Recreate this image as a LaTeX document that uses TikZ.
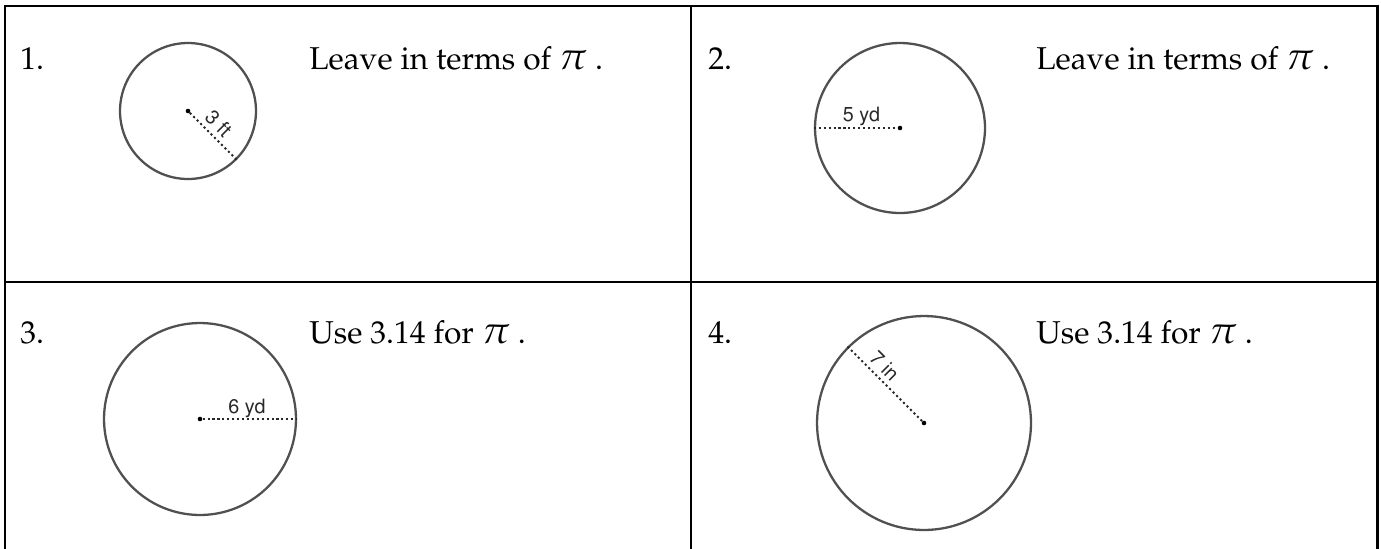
\documentclass[tikz,border=0pt]{standalone}
\usepackage[T1]{fontenc}
\usepackage{mathpazo}
\usepackage[scaled=0.9]{helvet}
\usetikzlibrary{positioning}
\definecolor{rimgrey}{RGB}{80,80,80}
\definecolor{dotgrey}{RGB}{40,40,40}
\newcommand{\qfont}{\fontsize{18}{22}\selectfont}
\newcommand{\bigpi}{{\fontsize{22}{26}\selectfont$\pi$}}
\tikzset{
  gridline/.style={draw=black,line width=1.6pt},
  disc/.style={circle,draw=rimgrey,line width=1.3pt,inner sep=0pt},
  radline/.style={draw=dotgrey,line width=1.1pt,dash pattern=on 1.2pt off 1.6pt},
  hub/.style={circle,fill=black,inner sep=0pt,minimum size=2.6pt},
  qnum/.style={anchor=base west,font=\qfont,inner sep=0pt},
  hint/.style={anchor=base west,font=\qfont,inner sep=0pt},
  dimlabel/.style={font=\sffamily\fontsize{12.5}{14}\selectfont,text=dotgrey,inner sep=2.5pt},
}

\begin{document}
\begin{tikzpicture}[x=0.02cm,y=-0.02cm]
  \useasboundingbox (0,0) rectangle (1381,548);
  % table frame
  \draw[gridline] (5,6) rectangle (1377.5,551);
  \draw[gridline] (691,6) -- (691,551);
  \draw[gridline] (5,282) -- (1377.5,282);
  % numbers and instructions
  \node[qnum] (n1) at (20,69) {1.};
  \node[hint] (h1) at (309,69) {Leave in terms of \bigpi\ .};
  \node[qnum] (n2) at (708,69) {2.};
  \node[hint] (h2) at (1036,69) {Leave in terms of \bigpi\ .};
  \node[qnum] (n3) at (20,343) {3.};
  \node[hint] (h3) at (309,343) {Use 3.14 for \bigpi\ .};
  \node[qnum] (n4) at (708,343) {4.};
  \node[hint] (h4) at (1036,343) {Use 3.14 for \bigpi\ .};
  % circles
  \node[disc,minimum size=2.72cm] (c1) at (188,111) {};
  \node[disc,minimum size=3.40cm] (c2) at (900,128) {};
  \node[disc,minimum size=3.84cm] (c3) at (200,419) {};
  \node[disc,minimum size=4.28cm] (c4) at (924,423) {};
  \foreach \c in {1,...,4}{\node[hub] (d\c) at (c\c.center) {};}
  % radii
  \draw[radline] (d1) -- (c1.-45)
    node[dimlabel,pos=0.42,sloped,above] (l1) {3 ft};
  \draw[radline] (c2.west) -- (d2)
    node[dimlabel,pos=0.57,above,inner sep=0.5pt] (l2) {5 yd};
  \draw[radline] (d3) -- (c3.east)
    node[dimlabel,pos=0.47,above,inner sep=0.5pt] (l3) {6 yd};
  \draw[radline] (c4.135) -- (d4)
    node[dimlabel,pos=0.38,sloped,above] (l4) {7 in};
\end{tikzpicture}
\end{document}
